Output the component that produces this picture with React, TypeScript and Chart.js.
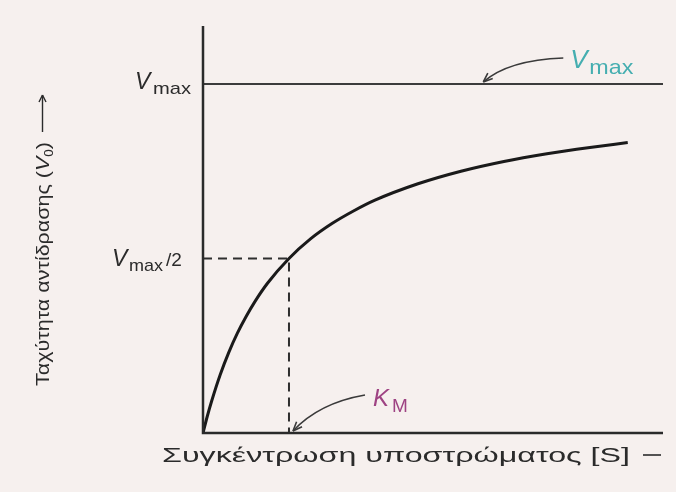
import React, { useEffect, useRef } from "react";
import { Chart, registerables } from "chart.js";

Chart.register(...registerables);

// Substrate concentration [S] in units of KM
const substrate = [0, 0.05, 0.1, 0.2, 0.3, 0.4, 0.5, 0.6, 0.75, 1, 1.25, 1.5, 1.75, 2, 2.5, 3, 3.5, 4, 4.5, 4.94];
// Reaction rate V0 in units of Vmax
const rate = [0, 0.048, 0.091, 0.167, 0.231, 0.286, 0.333, 0.375, 0.429, 0.5, 0.556, 0.6, 0.636, 0.667, 0.714, 0.75, 0.778, 0.8, 0.818, 0.832];
const vmaxValue = [1];
const kmValue = [1];
const axisRange = [5.35, 1.166]; // x max, y max
const xTitle = "Συγκέντρωση υποστρώματος [S]";
const yTitle = "Ταχύτητα αντίδρασης (";

const FONT = "'Liberation Sans', Arial, Helvetica, sans-serif";

function drawArrowCurve(ctx: CanvasRenderingContext2D, sx: number, sy: number, cx: number, cy: number, tx: number, ty: number) {
  ctx.save();
  ctx.strokeStyle = "#3a3a3a";
  ctx.lineWidth = 1.6;
  ctx.beginPath();
  ctx.moveTo(sx, sy);
  ctx.quadraticCurveTo(cx, cy, tx, ty);
  ctx.stroke();
  const ang = Math.atan2(ty - cy, tx - cx);
  const L = 10, W = 0.38;
  ctx.beginPath();
  ctx.moveTo(tx, ty);
  ctx.lineTo(tx - L * Math.cos(ang - W), ty - L * Math.sin(ang - W));
  ctx.moveTo(tx, ty);
  ctx.lineTo(tx - L * Math.cos(ang + W), ty - L * Math.sin(ang + W));
  ctx.stroke();
  ctx.restore();
}

// draw text stretched horizontally to a given width
function fitText(ctx: CanvasRenderingContext2D, text: string, x: number, y: number, width: number) {
  const m = ctx.measureText(text).width;
  ctx.save();
  ctx.translate(x, y);
  ctx.scale(width / m, 1);
  ctx.fillText(text, 0, 0);
  ctx.restore();
}

const labelsPlugin = {
  id: "labelsPlugin",
  afterDatasetsDraw(chart: any) {
    const ctx: CanvasRenderingContext2D = chart.ctx;
    const { left, right, top, bottom } = chart.chartArea;
    const xs = chart.scales.x;
    const ys = chart.scales.y;
    ctx.save();
    // axes
    ctx.strokeStyle = "#2a2a2a";
    ctx.lineWidth = 2.5;
    ctx.beginPath();
    ctx.moveTo(left, top);
    ctx.lineTo(left, bottom);
    ctx.lineTo(right, bottom);
    ctx.stroke();

    ctx.fillStyle = "#2b2b2b";
    ctx.textBaseline = "alphabetic";
    ctx.textAlign = "left";
    // Vmax tick label
    const yV = ys.getPixelForValue(vmaxValue[0]);
    ctx.font = `italic 23px ${FONT}`;
    ctx.fillText("V", 135, yV + 5);
    ctx.font = `17px ${FONT}`;
    fitText(ctx, "max", 153, yV + 10, 38);
    // Vmax/2 tick label
    const yH = ys.getPixelForValue(vmaxValue[0] / 2);
    ctx.font = `italic 23px ${FONT}`;
    ctx.fillText("V", 112, yH + 8);
    ctx.font = `17px ${FONT}`;
    fitText(ctx, "max", 129, yH + 13, 34);
    ctx.font = `19px ${FONT}`;
    ctx.fillText("/2", 166, yH + 8);

    // Vmax annotation (cyan)
    const ax = xs.getPixelForValue(3.26);
    const ay = yV;
    ctx.fillStyle = "#45aeb0";
    ctx.font = `italic 26px ${FONT}`;
    ctx.fillText("V", ax + 87, ay - 16);
    ctx.font = `21px ${FONT}`;
    fitText(ctx, "max", ax + 106, ay - 10, 44);
    drawArrowCurve(ctx, ax + 80, ay - 26, ax + 25, ay - 24, ax, ay - 2);

    // KM annotation (magenta)
    const kx = xs.getPixelForValue(kmValue[0]);
    const ky = ys.getPixelForValue(0);
    ctx.fillStyle = "#9e4383";
    ctx.font = `italic 24px ${FONT}`;
    ctx.fillText("K", kx + 84, ky - 27);
    ctx.font = `19px ${FONT}`;
    ctx.fillText("M", kx + 103, ky - 21);
    drawArrowCurve(ctx, kx + 76, ky - 38, kx + 30, ky - 30, kx + 4, ky - 2);

    // x title
    ctx.fillStyle = "#2b2b2b";
    ctx.font = `20px ${FONT}`;
    fitText(ctx, xTitle, 162, 462, 468);
    ctx.strokeStyle = "#2b2b2b";
    ctx.lineWidth = 1.6;
    ctx.beginPath();
    ctx.moveTo(643, 455);
    ctx.lineTo(661, 455);
    ctx.stroke();

    // y title (rotated)
    ctx.save();
    ctx.translate(49, 386);
    ctx.rotate(-Math.PI / 2);
    ctx.font = `19px ${FONT}`;
    const m1 = ctx.measureText(yTitle).width;
    ctx.font = `italic 19px ${FONT}`;
    const mV = ctx.measureText("V").width;
    ctx.font = `12px ${FONT}`;
    const m0 = ctx.measureText("0").width;
    ctx.font = `19px ${FONT}`;
    const mp = ctx.measureText(")").width;
    const total = m1 + mV + m0 + mp;
    const k = 244 / total;
    ctx.scale(k, 1);
    ctx.fillText(yTitle, 0, 0);
    let w = m1;
    ctx.font = `italic 19px ${FONT}`;
    ctx.fillText("V", w, 0);
    w += mV;
    ctx.font = `12px ${FONT}`;
    ctx.fillText("0", w, 4);
    w += m0;
    ctx.font = `19px ${FONT}`;
    ctx.fillText(")", w, 0);
    w += mp;
    ctx.setTransform(1, 0, 0, 1, 0, 0);
    ctx.translate(49, 386);
    ctx.rotate(-Math.PI / 2);
    ctx.strokeStyle = "#2b2b2b";
    ctx.lineWidth = 1.4;
    const a0 = w * k + 10, a1 = 291;
    ctx.beginPath();
    ctx.moveTo(a0, -6.5);
    ctx.lineTo(a1, -6.5);
    ctx.stroke();
    ctx.beginPath();
    ctx.moveTo(a1, -6.5);
    ctx.lineTo(a1 - 7, -10);
    ctx.moveTo(a1, -6.5);
    ctx.lineTo(a1 - 7, -3);
    ctx.stroke();
    ctx.restore();

    ctx.restore();
  },
};

export default function App() {
  const ref = useRef<HTMLCanvasElement | null>(null);
  useEffect(() => {
    if (!ref.current) return;
    const curve = substrate.map((s, i) => ({ x: s, y: rate[i] }));
    const chart = new Chart(ref.current, {
      type: "line",
      data: {
        datasets: [
          {
            data: curve,
            borderColor: "#1a1a1a",
            borderWidth: 3,
            pointRadius: 0,
            cubicInterpolationMode: "monotone",
          },
          {
            data: [
              { x: 0, y: vmaxValue[0] },
              { x: axisRange[0], y: vmaxValue[0] },
            ],
            borderColor: "#3c3c3c",
            borderWidth: 2,
            pointRadius: 0,
          },
          {
            data: [
              { x: 0, y: vmaxValue[0] / 2 },
              { x: kmValue[0], y: vmaxValue[0] / 2 },
              { x: kmValue[0], y: 0 },
            ],
            borderColor: "#2e2e2e",
            borderWidth: 2,
            borderDash: [9, 6],
            pointRadius: 0,
          },
        ],
      },
      options: {
        responsive: false,
        animation: false,
        layout: { padding: { left: 203, right: 13, top: 26, bottom: 59 } },
        plugins: { legend: { display: false }, tooltip: { enabled: false } },
        scales: {
          x: { type: "linear", min: 0, max: axisRange[0], display: false },
          y: { type: "linear", min: 0, max: axisRange[1], display: false },
        },
      },
      plugins: [labelsPlugin],
    } as any);
    return () => chart.destroy();
  }, []);
  return (
    <div style={{ position: "absolute", left: 0, top: 0, width: 676, height: 492, background: "#f6f0ee" }}>
      <canvas ref={ref} width={676} height={492} style={{ display: "block" }} />
    </div>
  );
}
